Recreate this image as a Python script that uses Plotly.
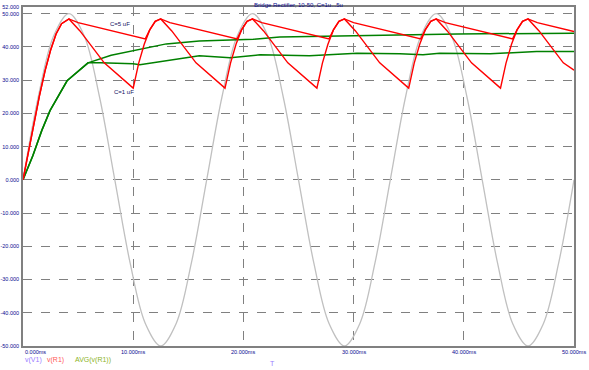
import plotly.graph_objects as go

# ---- data (time in ms, voltage in V) ----
sine_t = [0, 1.39, 2.78, 4.17, 5.56, 6.94, 8.33, 9.72, 11.11, 12.5, 13.89, 15.28,
          16.67, 18.06, 19.44, 20.83, 22.22, 23.61, 25.0, 26.39, 27.78, 29.17, 30.56, 31.94,
          33.33, 34.72, 36.11, 37.5, 38.89, 40.28, 41.67, 43.06, 44.44, 45.83, 47.22, 48.61, 50.0]
sine_v = [0, 25, 43.3, 50, 43.3, 25, 0, -25, -43.3, -50, -43.3, -25,
          0, 25, 43.3, 50, 43.3, 25, 0, -25, -43.3, -50, -43.3, -25,
          0, 25, 43.3, 50, 43.3, 25, 0, -25, -43.3, -50, -43.3, -25, 0]

r1_t = [0, 1.0, 1.5, 2.0, 2.5, 3.0, 3.5, 4.17, 5.17, 7.37, 10.0,
        10.5, 11.0, 11.5, 12.0, 12.5, 13.5, 15.7, 18.33,
        18.83, 19.33, 19.83, 20.33, 20.83, 21.83, 24.03, 26.67,
        27.17, 27.67, 28.17, 28.67, 29.17, 30.17, 32.37, 35.0,
        35.5, 36.0, 36.5, 37.0, 37.5, 38.5, 40.7, 43.33,
        43.83, 44.33, 44.83, 45.33, 45.83, 46.83, 49.03, 50.0]
r1_v = [0, 17, 25.4, 32.8, 39, 43.9, 47, 48.4, 44.8, 35.2, 27.6,
        35.1, 40.8, 45.1, 47.7, 48.4, 44.8, 35.2, 27.6,
        35.1, 40.8, 45.1, 47.7, 48.4, 44.8, 35.2, 27.6,
        35.1, 40.8, 45.1, 47.7, 48.4, 44.8, 35.2, 27.6,
        35.1, 40.8, 45.1, 47.7, 48.4, 44.8, 35.2, 27.6,
        35.1, 40.8, 45.1, 47.7, 48.4, 44.8, 35.2, 33.0]

r5_t = [0, 1.0, 1.5, 2.0, 2.5, 3.0, 3.5, 4.17, 5.0, 11.1,
        11.5, 12.0, 12.5, 13.33, 19.43,
        19.83, 20.33, 20.83, 21.67, 27.77,
        28.17, 28.67, 29.17, 30.0, 36.1,
        36.5, 37.0, 37.5, 38.33, 44.43,
        44.83, 45.33, 45.83, 46.67, 50.0]
r5_v = [0, 17, 25.4, 32.8, 39, 43.9, 47, 48.4, 47.3, 42.4,
        45.1, 47.7, 48.4, 47.3, 42.4,
        45.1, 47.7, 48.4, 47.3, 42.4,
        45.1, 47.7, 48.4, 47.3, 42.4,
        45.1, 47.7, 48.4, 47.3, 42.4,
        45.1, 47.7, 48.4, 47.3, 44.6]

avg5_t = [0, 0.9, 1.7, 2.45, 4.0, 5.9, 8.0, 10.0, 13.0, 16.0, 20.9, 23.3, 28.8, 34.2, 39.4, 50.0]
avg5_v = [0, 7.3, 14.8, 20.8, 29.8, 35.2, 37.5, 38.8, 40.9, 41.8, 42.3, 43.0, 43.3, 43.6, 43.9, 44.1]

avg1_t = [0, 0.9, 1.7, 2.45, 4.0, 5.9, 7.0, 10.0, 10.6, 13.0, 16.0, 18.8, 21.5, 26.0,
          30.3, 34.2, 36.3, 37.8, 42.4, 46.6, 50.0]
avg1_v = [0, 7.3, 14.8, 20.8, 29.8, 35.2, 35.2, 34.9, 34.6, 35.8, 37.3, 36.7, 37.6, 37.3,
          38.1, 37.9, 37.6, 38.1, 37.9, 38.6, 38.6]

y_ticks = [52, 50, 40, 30, 20, 10, 0, -10, -20, -30, -40, -50]
y_labels = ["52.000", "50.000", "40.000", "30.000", "20.000", "10.000", "0.000",
            "-10.000", "-20.000", "-30.000", "-40.000", "-50.000"]
x_ticks = [0, 10, 20, 30, 40, 50]
x_labels = ["0.000ms", "10.000ms", "20.000ms", "30.000ms", "40.000ms", "50.000ms"]

legend_names = ["v(V1)", "v(R1)", "AVG(v(R1))"]
legend_colors = ["#9a7cff", "#ff5a5a", "#8cb428"]

title_text = "Bridge Rectifier, 10-50, C=1u...5u"

fig = go.Figure()
fig.add_trace(go.Scatter(x=sine_t, y=sine_v, mode="lines",
                         line=dict(color="#c0c0c0", width=1.3, shape="spline", smoothing=1.0)))
fig.add_trace(go.Scatter(x=avg5_t, y=avg5_v, mode="lines", line=dict(color="#008000", width=1.5)))
fig.add_trace(go.Scatter(x=avg1_t, y=avg1_v, mode="lines", line=dict(color="#008000", width=1.5)))
fig.add_trace(go.Scatter(x=r5_t, y=r5_v, mode="lines", line=dict(color="#ff0000", width=1.4)))
fig.add_trace(go.Scatter(x=r1_t, y=r1_v, mode="lines", line=dict(color="#ff0000", width=1.4)))

axis_font = dict(family="Liberation Sans, Arial", size=5.5, color="#0a0a90")

fig.update_xaxes(range=[0, 50], tickvals=x_ticks, ticktext=[""] * len(x_ticks),
                 showgrid=True, gridcolor="#808080", griddash="dash", gridwidth=1,
                 showline=True, linecolor="#808080", linewidth=1.5, mirror=True,
                 zeroline=False, ticks="", automargin=False)
fig.update_yaxes(range=[-50, 52], tickvals=y_ticks, ticktext=y_labels, tickfont=axis_font,
                 showgrid=True, gridcolor="#808080", griddash="dash", gridwidth=1,
                 showline=True, linecolor="#808080", linewidth=1.5, mirror=True,
                 zeroline=False, ticks="", ticklabelstandoff=1, automargin=False)

ann = []
for xv, lab in zip(x_ticks, x_labels):
    ann.append(dict(x=xv, y=0, xref="x", yref="paper", text=lab, showarrow=False,
                    xanchor="left" if xv == 0 else "center", yanchor="top", yshift=-1,
                    font=axis_font))
ann.append(dict(x=0.5, y=1, xref="paper", yref="paper", text=title_text, showarrow=False,
                yanchor="bottom", yshift=-3, font=dict(family="Liberation Sans, Arial", size=6, color="#0a0a90")))
ann.append(dict(x=8.8, y=46.8, xref="x", yref="y", text="C=5 uF", showarrow=False,
                font=dict(family="Liberation Sans, Arial", size=6, color="#101060")))
ann.append(dict(x=9.2, y=26.5, xref="x", yref="y", text="C=1 uF", showarrow=False,
                font=dict(family="Liberation Sans, Arial", size=6, color="#101060")))
lx = [23, 45, 73]
for px, name, col in zip(lx, legend_names, legend_colors):
    ann.append(dict(x=(px - 23) / (574 - 23), y=-(360 - 346) / (346 - 7), xref="paper", yref="paper",
                    text=name, showarrow=False, xanchor="left", yanchor="middle",
                    font=dict(family="Liberation Sans, Arial", size=7, color=col)))
ann.append(dict(x=(272 - 23) / (574 - 23), y=-(363 - 346) / (346 - 7), xref="paper", yref="paper",
                text="T", showarrow=False, yanchor="middle",
                font=dict(family="Liberation Sans, Arial", size=7, color="#9a7cff")))

fig.update_layout(width=589, height=370, margin=dict(l=23, r=15, t=7, b=24, autoexpand=False),
                  plot_bgcolor="white", paper_bgcolor="white", showlegend=False,
                  annotations=ann)
fig.write_html("out.html", config={"displayModeBar": False},
               post_script="document.body.style.margin='0';document.body.style.padding='0';")
